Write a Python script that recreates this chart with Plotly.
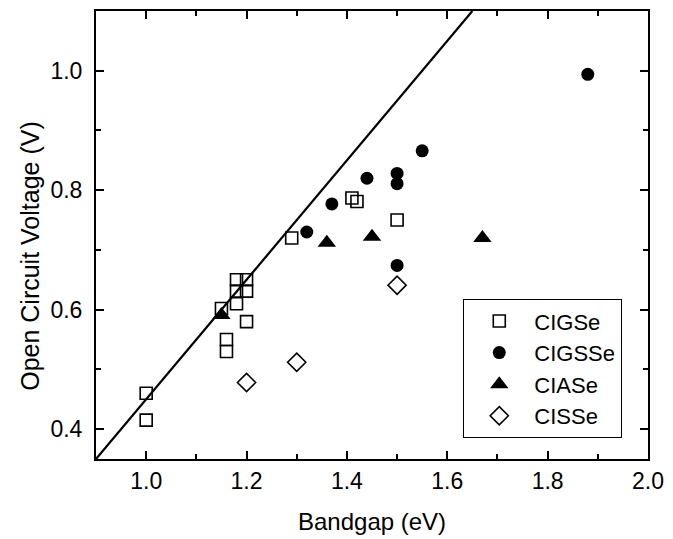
import plotly.graph_objects as go

# Data
cigse_x = [1.00, 1.00, 1.15, 1.16, 1.16, 1.18, 1.18, 1.18, 1.20, 1.20, 1.20, 1.29, 1.41, 1.42, 1.50]
cigse_y = [0.460, 0.415, 0.602, 0.550, 0.530, 0.650, 0.631, 0.610, 0.650, 0.631, 0.580, 0.720, 0.787, 0.781, 0.750]

cigsse_x = [1.32, 1.37, 1.44, 1.50, 1.50, 1.50, 1.55, 1.88]
cigsse_y = [0.730, 0.777, 0.820, 0.828, 0.811, 0.674, 0.866, 0.994]

ciase_x = [1.15, 1.36, 1.45, 1.67]
ciase_y = [0.591, 0.712, 0.722, 0.720]

cisse_x = [1.20, 1.30, 1.50]
cisse_y = [0.478, 0.512, 0.641]

# reference line Voc = Eg - 0.55
line_x = [0.90, 1.65]
line_offset = 0.55

x_ticks = [1.0, 1.2, 1.4, 1.6, 1.8, 2.0]
y_ticks = [0.4, 0.6, 0.8, 1.0]

FONT = "Liberation Sans, Arial, sans-serif"

fig = go.Figure()
fig.add_trace(go.Scatter(
    x=line_x, y=[v - line_offset for v in line_x], mode="lines",
    line=dict(color="black", width=2.2), showlegend=False, hoverinfo="skip"))
fig.add_trace(go.Scatter(
    x=cigse_x, y=cigse_y, mode="markers", name="CIGSe",
    marker=dict(symbol="square-open", size=12, color="black", line=dict(width=1.6, color="black"))))
fig.add_trace(go.Scatter(
    x=cigsse_x, y=cigsse_y, mode="markers", name="CIGSSe",
    marker=dict(symbol="circle", size=13, color="black")))
fig.add_trace(go.Scatter(
    x=ciase_x, y=ciase_y, mode="markers", name="CIASe",
    marker=dict(symbol="triangle-up", size=16, color="black")))
fig.add_trace(go.Scatter(
    x=cisse_x, y=cisse_y, mode="markers", name="CISSe",
    marker=dict(symbol="diamond-open", size=14, color="black", line=dict(width=1.6, color="black"))))

axis_common = dict(
    showline=True, linecolor="black", linewidth=2, mirror="ticks",
    ticks="inside", ticklen=8, tickwidth=2, tickcolor="black",
    showgrid=False, zeroline=False,
    tickfont=dict(family=FONT, size=23, color="black"),
)

fig.update_xaxes(
    range=[0.9, 2.0], tickvals=x_ticks, ticktext=[f"{v:.1f}" for v in x_ticks],
    minor=dict(ticks="inside", ticklen=5, tickwidth=2, tickcolor="black", dtick=0.1, tick0=0.9, showgrid=False),
    **axis_common)
fig.update_yaxes(
    range=[0.35, 1.1], tickvals=y_ticks, ticktext=[f"{v:.1f}" for v in y_ticks],
    minor=dict(ticks="inside", ticklen=5, tickwidth=2, tickcolor="black", dtick=0.1, tick0=0.3, showgrid=False),
    ticklabelstandoff=7,
    **axis_common)

fig.add_annotation(
    text="Bandgap (eV)", xref="paper", yref="paper", x=0.5, y=-0.14,
    xanchor="center", yanchor="middle", showarrow=False,
    font=dict(family=FONT, size=24, color="black"))
fig.add_annotation(
    text="Open Circuit Voltage (V)", xref="paper", yref="paper", x=-0.12, y=0.453,
    xanchor="center", yanchor="middle", textangle=-90, showarrow=False,
    font=dict(family=FONT, size=25, color="black"))

fig.update_layout(
    width=673, height=539,
    margin=dict(l=96, r=19, t=9, b=80),
    plot_bgcolor="white", paper_bgcolor="white",
    legend=dict(
        x=0.665, y=0.047, xanchor="left", yanchor="bottom",
        bordercolor="black", borderwidth=1.2, bgcolor="white",
        font=dict(family=FONT, size=22, color="black"),
        tracegroupgap=0, itemwidth=60,
    ),
)

fig.write_html("out.html", config={"displayModeBar": False},
               post_script="document.body.style.margin='0';document.body.style.padding='0';")
